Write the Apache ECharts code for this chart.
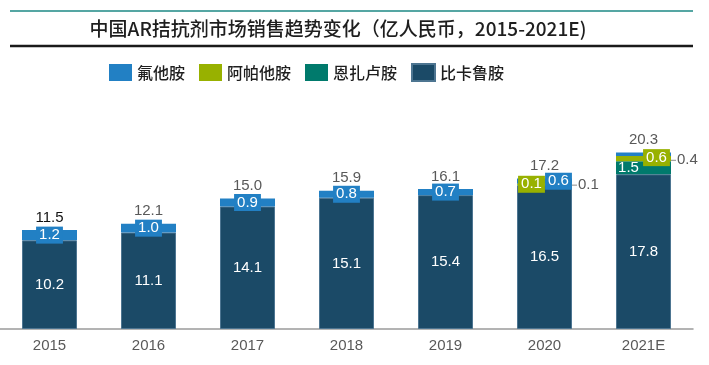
<!DOCTYPE html>
<html>
<head>
<meta charset="utf-8">
<script src="https://cdn.jsdelivr.net/npm/echarts@6/dist/echarts.min.js"></script>
<style>
html,body{margin:0;padding:0;background:#fff;}
#chart{width:709px;height:365px;}
</style>
</head>
<body>
<div id="chart"></div>
<script>
// ---- data ----
const categories = ['2015', '2016', '2017', '2018', '2019', '2020', '2021E'];
const seriesNames = ['氟他胺', '阿帕他胺', '恩扎卢胺', '比卡鲁胺'];
const bicalutamide = [10.2, 11.1, 14.1, 15.1, 15.4, 16.5, 17.8];
const enzalutamide = [null, null, null, null, null, 0.1, 1.5];
const apalutamide = [null, null, null, null, null, 0.1, 0.6];
const flutamide = [1.2, 1.0, 0.9, 0.8, 0.7, 0.6, 0.4];
const totals = [11.5, 12.1, 15.0, 15.9, 16.1, 17.2, 20.3];
const titleText = '中国AR拮抗剂市场销售趋势变化（亿人民币，2015-2021E)';

// ---- styles ----
const C_BLUE = '#2280c4', C_GREEN = '#98b100', C_TEAL = '#007a6c', C_DARK = '#1b4a67';
const NUM_FONT = '"Liberation Sans", Arial, sans-serif';
const CJK_FONT = '"Noto Sans CJK SC", sans-serif';
const GREY = '#595959';

const boxLabel = (bg) => ({
  show: true, position: 'inside', color: '#fff', fontSize: 15, fontFamily: NUM_FONT,
  backgroundColor: bg, padding: [1, 3], lineHeight: 15
});
const outsideLabel = {
  show: true, position: 'right', distance: 0, fontSize: 15, fontFamily: NUM_FONT,
  backgroundColor: 'transparent', padding: 0,
  formatter: (p) => '{l|}{v|' + p.value.toFixed(1) + '}',
  rich: {
    l: { width: 5, height: 1, backgroundColor: '#8a8a8a', verticalAlign: 'middle' },
    v: { color: GREY, fontSize: 15, fontFamily: NUM_FONT, padding: [0, 0, 0, 1] }
  }
};
// per-index label overrides (style only)
const flutamideLabelOverrides = { 5: { offset: [14, 0] }, 6: Object.assign({}, outsideLabel, { offset: [0, 6] }) };
const apalutamideLabelOverrides = { 5: { offset: [-13, 0] }, 6: { offset: [13, -1] } };
const enzalutamideLabelOverrides = { 5: Object.assign({}, outsideLabel), 6: { offset: [-15, 0], backgroundColor: 'transparent' } };

function items(values, overrides) {
  return values.map((v, i) => {
    const it = { value: v === null ? '-' : v };
    if (overrides && overrides[i]) it.label = overrides[i];
    return it;
  });
}

const chart = echarts.init(document.getElementById('chart'), null, { renderer: 'canvas' });
const fmt = (p) => (typeof p.value === 'number' ? p.value.toFixed(1) : '');

const option = {
  animation: false,
  backgroundColor: '#fff',
  graphic: [
    { type: 'line', shape: { x1: 10, y1: 11, x2: 693, y2: 11 }, style: { stroke: '#55a6a3', lineWidth: 2 } },
    { type: 'line', shape: { x1: 10, y1: 46, x2: 693, y2: 46 }, style: { stroke: '#1a1a1a', lineWidth: 2.5 } },
    { type: 'text', x: 338, y: 29, style: { text: titleText, fill: '#1e1e1e', fontSize: 19, fontWeight: 500, fontFamily: CJK_FONT, align: 'center', verticalAlign: 'middle' } }
  ],
  legend: {
    data: seriesNames,
    left: 104, top: 58,
    itemWidth: 23, itemHeight: 17, itemGap: 14,
    icon: 'rect',
    textStyle: { fontSize: 16, color: '#1e1e1e', fontWeight: 500, fontFamily: CJK_FONT }
  },
  grid: { left: 0, right: 16, top: 103, bottom: 36, containLabel: false },
  xAxis: {
    type: 'category', data: categories,
    axisLine: { show: true, lineStyle: { color: '#9a9a9a', width: 1.5 } },
    axisTick: { show: false },
    axisLabel: { color: GREY, fontSize: 15, fontFamily: NUM_FONT, margin: 9 }
  },
  yAxis: { type: 'value', min: 0, max: 26, show: false, splitLine: { show: false } },
  series: [
    {
      name: '比卡鲁胺', type: 'bar', stack: 'total', barWidth: 55,
      itemStyle: { color: C_DARK, borderColor: '#4d7591', borderWidth: 1 },
      label: { show: true, position: 'inside', color: '#fff', fontSize: 15, fontFamily: NUM_FONT, formatter: fmt },
      data: items(bicalutamide)
    },
    {
      name: '恩扎卢胺', type: 'bar', stack: 'total', barWidth: 55,
      itemStyle: { color: C_TEAL },
      label: Object.assign(boxLabel(C_TEAL), { formatter: fmt }),
      data: items(enzalutamide, enzalutamideLabelOverrides)
    },
    {
      name: '阿帕他胺', type: 'bar', stack: 'total', barWidth: 55,
      itemStyle: { color: C_GREEN },
      label: Object.assign(boxLabel(C_GREEN), { formatter: fmt }),
      data: items(apalutamide, apalutamideLabelOverrides)
    },
    {
      name: '氟他胺', type: 'bar', stack: 'total', barWidth: 55,
      itemStyle: { color: C_BLUE },
      label: Object.assign(boxLabel(C_BLUE), { formatter: fmt }),
      data: items(flutamide, flutamideLabelOverrides)
    },
    {
      name: 'total', type: 'bar', stack: 'total', barWidth: 55,
      itemStyle: { color: 'transparent' },
      label: {
        show: true, position: 'top', distance: 5, color: GREY, fontSize: 15, fontFamily: NUM_FONT,
        formatter: (p) => totals[p.dataIndex].toFixed(1)
      },
      data: totals.map((t, i) => (i === 0 ? { value: 0, label: { color: '#111' } } : 0))
    }
  ]
};
chart.setOption(option);
</script>
</body>
</html>
